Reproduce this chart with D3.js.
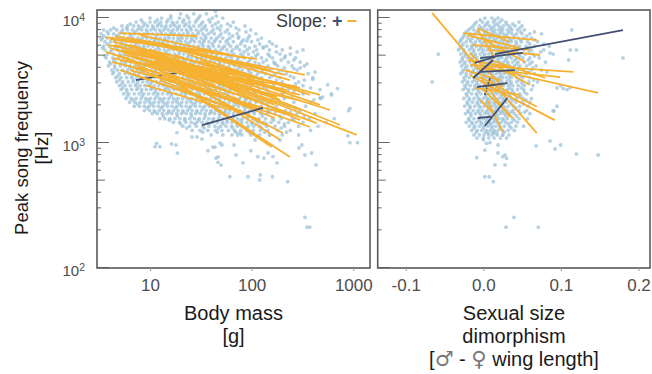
<!DOCTYPE html>
<html>
<head>
<meta charset="utf-8">
<title>Peak song frequency</title>
<script src="https://cdnjs.cloudflare.com/ajax/libs/d3/7.8.5/d3.min.js"></script>
<style>
body { margin: 0; background: #fff; }
text { font-family: "Liberation Sans", Arial, sans-serif; }
</style>
</head>
<body>
<script>

// body mass panel: rows of points, [peak frequency Hz, [body masses g]]
var massRows = [
  [10700, [20, 27, 36]],
  [9900, [10, 13, 16, 19.5, 24, 30, 41, 52]],
  [9200, [7.3, 8.5, 10, 11.2, 12.8, 14.6, 16.5, 18.5, 21, 24.5, 28, 33, 39, 47, 66]],
  [8550, [5.3, 6, 6.9, 7.7, 8.6, 9.5, 10.6, 11.8, 13, 14.4, 15.9, 17.6, 19.5, 21.8, 24.2, 27, 30.5, 35, 41, 50, 62, 86]],
  [7950, [3.5, 4.1, 4.7, 5.4, 6.0, 6.7, 7.5, 8.3, 9.2, 10.2, 11.3, 12.4, 13.7, 15.2, 16.8, 18.5, 20.5, 22.8, 25.4, 28.4, 32, 36, 42, 49, 58, 75, 98]],
  [7400, [3.3, 3.9, 4.4, 5.0, 5.6, 6.3, 7.0, 7.8, 8.7, 9.6, 10.6, 11.7, 12.9, 14.3, 15.8, 17.4, 19.3, 21.3, 23.7, 26.3, 29.5, 33, 37.5, 43, 50, 60, 72, 110]],
  [6850, [3.4, 3.8, 4.3, 4.8, 5.4, 6.1, 6.8, 7.6, 8.4, 9.3, 10.3, 11.4, 12.6, 13.9, 15.4, 17, 18.8, 20.8, 23, 25.6, 28.5, 31.8, 35.5, 40, 45.5, 52, 61, 74, 92, 125]],
  [6400, [3.6, 4.1, 4.6, 5.2, 5.8, 6.5, 7.2, 8.0, 8.9, 9.9, 11, 12.2, 13.5, 15, 16.6, 18.3, 20.2, 22.4, 24.8, 27.5, 30.6, 34, 38, 43, 49, 56, 66, 80, 100, 150]],
  [5900, [3.5, 4.0, 4.5, 5.1, 5.7, 6.3, 7.0, 7.8, 8.7, 9.6, 10.7, 11.9, 13.2, 14.6, 16.2, 17.9, 19.8, 22, 24.4, 27, 30, 33.5, 37.5, 42, 47.5, 54, 62, 72, 86, 108, 140, 175]],
  [5500, [3.6, 4.2, 4.8, 5.4, 6.0, 6.7, 7.4, 8.2, 9.1, 10.1, 11.2, 12.4, 13.8, 15.3, 17, 18.8, 20.8, 23, 25.5, 28.3, 31.5, 35, 39, 44, 50, 57, 65, 76, 90, 112, 150, 200, 320]],
  [5100, [3.8, 4.4, 5.0, 5.6, 6.2, 6.9, 7.7, 8.5, 9.4, 10.4, 11.5, 12.8, 14.2, 15.7, 17.4, 19.3, 21.4, 23.7, 26.3, 29.2, 32.5, 36, 40.5, 45.5, 51, 58, 67, 78, 93, 115, 145, 190, 240]],
  [4750, [3.7, 4.3, 4.9, 5.5, 6.1, 6.8, 7.5, 8.3, 9.2, 10.2, 11.3, 12.5, 13.9, 15.4, 17.1, 19, 21, 23.3, 25.8, 28.7, 32, 35.5, 39.5, 44, 49.5, 56, 63.5, 73, 85, 100, 125, 160, 210, 270]],
  [4400, [4.0, 4.6, 5.2, 5.8, 6.5, 7.2, 8.0, 8.9, 9.8, 10.9, 12.1, 13.4, 14.9, 16.5, 18.3, 20.3, 22.5, 25, 27.8, 31, 34.5, 38.5, 43, 48, 54, 61, 69, 79, 92, 108, 130, 165, 230, 300]],
  [4100, [3.9, 4.5, 5.1, 5.7, 6.4, 7.1, 7.9, 8.8, 9.7, 10.7, 11.8, 13.1, 14.5, 16.1, 17.8, 19.7, 21.9, 24.3, 27, 30, 33.5, 37.5, 42, 47, 53, 60, 68, 77, 88, 102, 120, 145, 180, 250, 330]],
  [3800, [4.2, 4.8, 5.4, 6.0, 6.7, 7.5, 8.3, 9.2, 10.2, 11.3, 12.5, 13.9, 15.4, 17.1, 19, 21, 23.3, 25.9, 28.8, 32, 35.5, 39.5, 44, 49.5, 55.5, 62.5, 71, 81, 93, 108, 128, 155, 200, 280]],
  [3550, [4.3, 5.0, 5.7, 6.3, 7.0, 7.8, 8.7, 9.6, 10.6, 11.8, 13.1, 14.5, 16.1, 17.9, 19.8, 22, 24.4, 27.1, 30.1, 33.5, 37.3, 41.5, 46.3, 52, 58.5, 66, 75, 86, 99, 115, 137, 170, 220, 360]],
  [3300, [4.6, 5.2, 5.9, 6.6, 7.4, 8.2, 9.1, 10.1, 11.2, 12.4, 13.8, 15.3, 17, 18.9, 21, 23.3, 25.9, 28.8, 32, 35.6, 39.6, 44.2, 49.5, 55.5, 62.5, 70.5, 80, 92, 106, 125, 150, 190, 260, 400]],
  [3050, [4.7, 5.4, 6.1, 6.8, 7.6, 8.5, 9.4, 10.4, 11.6, 12.8, 14.2, 15.8, 17.5, 19.4, 21.6, 24, 26.6, 29.6, 33, 36.7, 40.8, 45.5, 51, 57, 64, 72.5, 82, 94, 109, 128, 155, 200, 290]],
  [2850, [5.0, 5.7, 6.4, 7.2, 8.0, 8.9, 9.9, 11, 12.2, 13.5, 15, 16.6, 18.4, 20.4, 22.7, 25.2, 28, 31.1, 34.6, 38.5, 42.9, 47.8, 53.5, 60, 67.5, 76, 86.5, 99, 115, 135, 165, 215, 320]],
  [2650, [5.2, 5.9, 6.6, 7.4, 8.3, 9.2, 10.2, 11.3, 12.5, 13.9, 15.4, 17.1, 19, 21.1, 23.4, 26, 28.9, 32.1, 35.7, 39.7, 44.2, 49.3, 55, 61.5, 69, 78, 89, 102, 118, 140, 175, 230, 470]],
  [2450, [5.5, 6.2, 7.0, 7.8, 8.7, 9.7, 10.8, 12, 13.3, 14.8, 16.4, 18.2, 20.2, 22.4, 24.9, 27.7, 30.8, 34.2, 38, 42.3, 47.1, 52.5, 58.6, 65.6, 73.5, 83, 94, 108, 125, 150, 200, 320, 610]],
  [2250, [5.8, 6.5, 7.3, 8.2, 9.1, 10.1, 11.2, 12.4, 13.8, 15.3, 17, 18.9, 21, 23.3, 25.9, 28.8, 32, 35.6, 39.6, 44.1, 49.1, 54.7, 61, 68.3, 76.5, 86.5, 98, 113, 132, 160, 210, 480]],
  [2100, [6.3, 7.1, 8.0, 8.9, 9.9, 11, 12.2, 13.5, 15, 16.7, 18.5, 20.6, 22.9, 25.4, 28.3, 31.4, 35, 38.9, 43.3, 48.2, 53.7, 59.9, 67, 75, 84.5, 96, 110, 128, 152, 190, 260, 380]],
  [1950, [7.0, 7.9, 8.8, 9.8, 10.9, 12.1, 13.4, 14.9, 16.5, 18.4, 20.4, 22.7, 25.2, 28, 31.1, 34.6, 38.5, 42.8, 47.7, 53.1, 59.2, 66.1, 74, 83, 94, 107, 124, 146, 175, 230, 340]],
  [1800, [8.8, 9.9, 11, 12.3, 13.7, 15.3, 17, 18.9, 21, 23.4, 26, 28.9, 32.2, 35.8, 39.8, 44.3, 49.3, 54.9, 61.2, 68.2, 76.2, 85.4, 96, 109, 125, 145, 172, 215, 300, 900]],
  [1700, [10.5, 11.8, 13.2, 14.7, 16.4, 18.3, 20.4, 22.7, 25.3, 28.1, 31.3, 34.8, 38.7, 43.1, 48, 53.4, 59.5, 66.3, 74, 83, 93, 106, 122, 142, 170, 210, 280, 420]],
  [1550, [12.5, 14, 15.7, 17.6, 19.7, 22, 24.6, 27.4, 30.5, 34, 37.9, 42.2, 47, 52.4, 58.4, 65.1, 72.6, 81.3, 91, 103, 118, 137, 160, 195, 250, 370, 650]],
  [1450, [17, 19.5, 22.5, 25.5, 29, 32.5, 36.5, 41, 46, 51.5, 57.5, 64, 71.5, 80, 90, 101, 115, 132, 155, 185, 230, 320, 540]],
  [1350, [21, 24.5, 28.5, 33, 38, 43.5, 49.5, 56, 63.5, 72, 81.5, 92.5, 105, 120, 140, 170, 210, 290, 450]],
  [1250, [26, 31, 37, 44, 51, 59, 68, 78, 90, 104, 122, 145, 180, 240, 380]],
  [1150, [40, 52, 64, 80, 98, 120, 150, 200, 290]]
];

// body mass panel: in-between rows, thinner
var massRows2 = [
  [10280, [16, 23, 31, 45]],
  [9550, [8.2, 11.8, 15, 21.5, 29, 38]],
  [8870, [6.4, 9, 12.2, 17, 22.5, 32, 44, 58]],
  [8240, [4.4, 5.9, 8, 10.8, 14.1, 18.8, 25, 33.5, 46, 70]],
  [7660, [3.8, 5.2, 7.1, 9.4, 12.9, 16.3, 23.5, 30, 40, 55, 88]],
  [7110, [3.5, 4.7, 6.5, 8.9, 11.5, 15.1, 20, 27.5, 35, 48, 65, 95]],
  [6610, [3.3, 4.5, 6.2, 8.1, 11.2, 14.3, 19.5, 26, 34, 44, 58, 83, 115]],
  [6140, [3.8, 5.4, 7.3, 9.9, 13.1, 17.6, 23.5, 32.5, 41, 59, 78, 120, 160]],
  [5700, [3.4, 4.6, 6.4, 8.6, 12, 16, 21.5, 29.5, 38, 52, 70, 95, 130, 240]],
  [5300, [4.1, 5.8, 7.9, 10.8, 14.5, 19.5, 26.5, 35.5, 47, 63, 84, 104, 175, 280]],
  [4920, [3.6, 5.3, 7.2, 9.7, 13.3, 18, 24, 33, 45, 60, 82, 110, 150, 215]],
  [4570, [4.4, 6.1, 8.5, 11.6, 15.8, 21.5, 29, 40, 54, 73, 96, 140, 195, 260]],
  [4250, [4.1, 5.6, 7.7, 10.5, 14.2, 19.5, 26.5, 36, 49, 66, 90, 118, 170, 350]],
  [3950, [4.5, 6.3, 8.6, 11.9, 16.2, 22, 30, 41, 56, 75, 100, 135, 210, 300]],
  [3660, [4.4, 6, 8.2, 11.1, 15.1, 20.5, 28, 38, 52, 70, 95, 125, 185, 420]],
  [3400, [4.8, 6.7, 9.2, 12.6, 17.2, 23.5, 32, 43.5, 59, 80, 110, 160, 240]],
  [3160, [5, 6.9, 9.5, 13, 17.8, 24.5, 33.5, 45.5, 62, 84, 118, 175, 330]],
  [2940, [5.3, 7.4, 10.1, 13.9, 19, 26, 35.5, 48.5, 66, 90, 125, 190, 270]],
  [2730, [5.4, 7.6, 10.5, 14.5, 20, 27.5, 37.5, 51, 70, 96, 130, 200, 380]],
  [2540, [5.9, 8.2, 11.3, 15.6, 21.4, 29.5, 40.5, 55.5, 76, 104, 145, 260]],
  [2360, [6, 8.4, 11.7, 16.1, 22.2, 30.5, 42, 57.5, 79, 110, 165, 250]],
  [2190, [6.8, 9.5, 13, 18, 24.8, 34, 47, 64, 88, 120, 180, 410]],
  [2030, [7.5, 10.4, 14.3, 19.7, 27, 37, 51, 70, 97, 140, 210]],
  [1890, [9.4, 12.9, 17.8, 24.5, 33.5, 46, 63.5, 87, 120, 160, 270]],
  [1750, [11.2, 15.4, 21.2, 29.2, 40, 55, 76, 104, 150, 240]],
  [1630, [13.5, 18.6, 25.6, 35, 48.5, 66.5, 92, 128, 190, 330]],
  [1510, [15.5, 22, 30, 41.5, 57, 78, 110, 165, 260]],
  [1410, [20, 27.5, 38, 52.5, 72, 100, 140, 210]],
  [1305, [23, 34, 47, 65, 90, 125, 195]],
  [1210, [33, 46, 70, 95, 135, 220]]
];

// body mass panel: scattered single points [mass g, frequency Hz]
var massExtra = [
  [11.6, 985], [12.5, 926], [11.2, 926], [16.3, 973], [18, 955], [18.6, 823], [18.4, 1198],
  [25.9, 1107], [29, 1107], [32.5, 1066], [37.2, 860], [41.6, 920], [43.6, 920], [44.6, 751],
  [46.7, 766], [46.7, 694], [50, 660], [48.8, 990], [51, 955], [61, 532], [67, 955], [70, 794],
  [73, 1148], [76.6, 1191], [82, 686], [92, 532], [98, 860], [108, 1047], [115, 770], [120, 501],
  [122, 550], [132, 751], [145, 824], [151, 1148], [160, 532], [162, 770], [178, 686], [190, 1047],
  [226, 486], [292, 904], [312, 955], [334, 794], [389, 824], [430, 661], [334, 252], [350, 210],
  [373, 210], [886, 1133], [925, 996], [1100, 996], [925, 1878], [610, 2400], [470, 2270],
  [500, 2310], [320, 2490], [203, 2490], [35, 12300], [27, 11800], [44, 11200], [75, 7000],
  [90, 6500], [130, 5800], [170, 4300], [260, 3900], [400, 3200], [560, 2900], [700, 2700]
];

// body mass panel: fitted segments [mass1, freq1, mass2, freq2]
var massLines = [
  [7.29, 3160, 25.9, 3800],
  [5.07, 7510, 29, 7110], [4.04, 6730, 113, 4660], [3.61, 6980, 43.6, 5300], [4.33, 6370, 76.8, 3670],
  [4.74, 5500, 222, 2630], [4.33, 4740, 281, 2190], [11.7, 4830, 1080, 1150], [7.98, 4020, 374, 1330],
  [10, 4330, 437, 1430], [16.8, 3160, 238, 766], [14.7, 3340, 158, 920], [12.5, 3800, 203, 1190],
  [5.68, 6030, 178, 2310], [6.36, 5300, 281, 2780], [5.07, 4570, 203, 2880], [4.04, 5710, 61.2, 2780],
  [4.85, 5010, 76.8, 2190], [7.12, 6600, 31, 5010], [7.98, 7240, 86, 4740], [3.86, 6030, 19.7, 4570],
  [5.68, 4170, 121, 1820], [7.12, 3470, 96.3, 1660], [8.93, 2880, 61.2, 1820], [6.36, 3800, 34.7, 2630],
  [10, 5500, 135, 3160], [14, 6030, 151, 3800], [11.2, 4570, 299, 2400], [17.6, 5010, 470, 2000],
  [24.7, 4170, 740, 1380], [5.07, 3800, 38.9, 2190], [4.23, 4400, 24.7, 3160], [7.98, 5010, 61.2, 3470],
  [12.5, 3160, 121, 1510], [19.7, 2880, 238, 1660], [6.08, 6850, 121, 3950], [8.93, 6370, 212, 3470],
  [15.7, 4570, 590, 1820], [31, 3470, 299, 1510], [4.53, 7110, 15.7, 6030], [10, 3470, 86, 2000],
  [22.1, 3800, 169, 2000], [7.12, 4740, 54.6, 3050], [31, 2630, 135, 1380], [38.9, 2400, 190, 1050],
  [5.43, 5500, 19.7, 4170], [11.2, 4170, 43.6, 2880], [24.7, 3160, 108, 2190], [48.8, 3800, 299, 2730],
  [61.2, 4570, 334, 3470], [3.69, 5300, 14, 3670],
  [6.36, 6030, 108, 2880], [7.98, 5500, 151, 2400], [10, 5010, 190, 2190], [12.5, 4570, 135, 2400],
  [15.7, 4170, 299, 1820], [8.93, 4330, 96.3, 2540], [19.7, 5500, 238, 3160], [11.2, 3670, 108, 1890],
  [5.68, 5010, 68.6, 3160], [24.7, 5010, 374, 2400], [31, 4570, 212, 2540], [7.12, 4170, 48.8, 2400],
  [14, 3470, 169, 1570], [4.53, 6030, 31, 3800], [38.9, 4170, 470, 2400],
  [32.5, 1380, 129, 1890]
];

// size dimorphism panel: rows of points, [peak frequency Hz, [dimorphism]]
var ssdRows = [
  [9900, [0.002, 0.011, 0.019]],
  [9200, [-0.009, -0.001, 0.006, 0.013, 0.021, 0.029, 0.046]],
  [8550, [-0.013, -0.005, 0.002, 0.008, 0.014, 0.02, 0.026, 0.033, 0.041, 0.05]],
  [7950, [-0.019, -0.012, -0.006, 0.0, 0.005, 0.01, 0.015, 0.02, 0.025, 0.031, 0.037, 0.044, 0.053, 0.114]],
  [7400, [-0.024, -0.017, -0.011, -0.005, 0.001, 0.006, 0.011, 0.016, 0.021, 0.026, 0.031, 0.037, 0.043, 0.05, 0.06, 0.075]],
  [6850, [-0.027, -0.02, -0.014, -0.008, -0.002, 0.003, 0.008, 0.013, 0.018, 0.023, 0.028, 0.033, 0.039, 0.045, 0.052, 0.062]],
  [6400, [-0.03, -0.022, -0.016, -0.01, -0.004, 0.001, 0.006, 0.011, 0.016, 0.021, 0.026, 0.031, 0.036, 0.042, 0.049, 0.057, 0.07]],
  [5900, [-0.028, -0.021, -0.015, -0.009, -0.003, 0.003, 0.008, 0.013, 0.018, 0.023, 0.028, 0.034, 0.04, 0.047, 0.055, 0.066, 0.085]],
  [5500, [-0.032, -0.025, -0.018, -0.012, -0.006, 0.0, 0.005, 0.01, 0.015, 0.02, 0.025, 0.031, 0.037, 0.044, 0.052, 0.062, 0.078, 0.112, 0.12]],
  [5100, [-0.058, -0.029, -0.022, -0.016, -0.01, -0.004, 0.002, 0.007, 0.012, 0.017, 0.022, 0.027, 0.033, 0.039, 0.046, 0.054, 0.064, 0.09]],
  [4750, [-0.027, -0.02, -0.014, -0.008, -0.002, 0.004, 0.009, 0.014, 0.019, 0.024, 0.03, 0.036, 0.043, 0.051, 0.06, 0.072, 0.18]],
  [4400, [-0.03, -0.023, -0.017, -0.011, -0.005, 0.001, 0.006, 0.011, 0.016, 0.021, 0.026, 0.032, 0.038, 0.045, 0.053, 0.063, 0.08]],
  [4100, [-0.028, -0.021, -0.015, -0.009, -0.003, 0.003, 0.008, 0.013, 0.018, 0.023, 0.028, 0.034, 0.04, 0.047, 0.056, 0.068]],
  [3800, [-0.026, -0.019, -0.013, -0.007, -0.001, 0.005, 0.01, 0.015, 0.02, 0.025, 0.031, 0.037, 0.044, 0.052, 0.062, 0.075]],
  [3550, [-0.029, -0.022, -0.016, -0.01, -0.004, 0.002, 0.007, 0.012, 0.017, 0.022, 0.027, 0.033, 0.039, 0.046, 0.055, 0.066]],
  [3300, [-0.025, -0.018, -0.012, -0.006, 0.0, 0.005, 0.01, 0.015, 0.02, 0.025, 0.03, 0.036, 0.043, 0.051, 0.06]],
  [3050, [-0.066, -0.027, -0.02, -0.014, -0.008, -0.002, 0.004, 0.009, 0.014, 0.019, 0.024, 0.03, 0.036, 0.043, 0.05, 0.059, 0.07]],
  [2850, [-0.024, -0.017, -0.011, -0.005, 0.001, 0.006, 0.011, 0.016, 0.021, 0.026, 0.032, 0.038, 0.045, 0.053, 0.064, 0.1]],
  [2650, [-0.026, -0.019, -0.013, -0.007, -0.001, 0.005, 0.01, 0.015, 0.02, 0.025, 0.031, 0.037, 0.044, 0.052, 0.062, 0.108]],
  [2450, [-0.022, -0.015, -0.009, -0.003, 0.003, 0.008, 0.013, 0.018, 0.023, 0.028, 0.034, 0.04, 0.047, 0.056]],
  [2250, [-0.025, -0.018, -0.012, -0.006, 0.0, 0.005, 0.01, 0.015, 0.02, 0.025, 0.03, 0.036, 0.043, 0.051, 0.062]],
  [2100, [-0.021, -0.014, -0.008, -0.002, 0.004, 0.009, 0.014, 0.019, 0.024, 0.029, 0.035, 0.042, 0.05, 0.06]],
  [1950, [-0.024, -0.017, -0.011, -0.005, 0.001, 0.006, 0.011, 0.016, 0.021, 0.026, 0.032, 0.039, 0.047, 0.058, 0.095]],
  [1800, [-0.02, -0.013, -0.007, -0.001, 0.005, 0.01, 0.015, 0.02, 0.025, 0.031, 0.038, 0.046, 0.056, 0.09]],
  [1700, [-0.023, -0.016, -0.01, -0.004, 0.002, 0.007, 0.012, 0.017, 0.022, 0.027, 0.033, 0.04, 0.048, 0.06]],
  [1550, [-0.019, -0.012, -0.006, 0.0, 0.005, 0.01, 0.015, 0.02, 0.025, 0.031, 0.038, 0.046, 0.057]],
  [1450, [-0.022, -0.015, -0.009, -0.003, 0.003, 0.008, 0.013, 0.018, 0.023, 0.029, 0.036, 0.044]],
  [1350, [-0.018, -0.011, -0.005, 0.001, 0.006, 0.011, 0.016, 0.021, 0.027, 0.034, 0.042, 0.052]],
  [1250, [-0.015, -0.008, -0.002, 0.004, 0.009, 0.014, 0.019, 0.025, 0.032, 0.04]],
  [1150, [-0.012, -0.005, 0.001, 0.007, 0.012, 0.018, 0.025, 0.033]],
  [1085, [-0.008, 0.0, 0.007, 0.014, 0.022, 0.03]]
];

// size dimorphism panel: in-between rows, thinner
var ssdRows2 = [
  [9550, [-0.004, 0.015, 0.024]],
  [8870, [-0.011, 0.004, 0.017, 0.03, 0.038]],
  [8240, [-0.016, -0.002, 0.011, 0.023, 0.035, 0.047]],
  [7660, [-0.022, -0.008, 0.003, 0.013, 0.023, 0.034, 0.048, 0.066]],
  [7110, [-0.025, -0.013, 0.0, 0.009, 0.019, 0.029, 0.04, 0.056]],
  [6610, [-0.029, -0.017, -0.005, 0.004, 0.015, 0.025, 0.035, 0.048, 0.066]],
  [6140, [-0.026, -0.012, -0.001, 0.01, 0.02, 0.031, 0.043, 0.06, 0.078]],
  [5700, [-0.03, -0.015, -0.003, 0.008, 0.018, 0.028, 0.041, 0.058]],
  [5300, [-0.025, -0.013, -0.001, 0.01, 0.02, 0.03, 0.042, 0.059, 0.074]],
  [4920, [-0.024, -0.011, 0.001, 0.012, 0.022, 0.033, 0.047, 0.066]],
  [4570, [-0.027, -0.014, -0.002, 0.009, 0.019, 0.029, 0.041, 0.058, 0.11]],
  [4250, [-0.025, -0.012, 0.0, 0.011, 0.021, 0.031, 0.043, 0.06]],
  [3950, [-0.023, -0.01, 0.001, 0.012, 0.022, 0.033, 0.046, 0.064]],
  [3660, [-0.027, -0.013, -0.001, 0.01, 0.02, 0.03, 0.042, 0.058, 0.082]],
  [3400, [-0.022, -0.009, 0.002, 0.013, 0.023, 0.034, 0.048]],
  [3160, [-0.024, -0.011, 0.001, 0.012, 0.022, 0.033, 0.046, 0.065]],
  [2940, [-0.021, -0.008, 0.003, 0.014, 0.024, 0.035, 0.05]],
  [2730, [-0.023, -0.01, 0.002, 0.012, 0.022, 0.034, 0.049, 0.095]],
  [2540, [-0.019, -0.006, 0.005, 0.016, 0.026, 0.038, 0.053]],
  [2360, [-0.021, -0.008, 0.003, 0.013, 0.023, 0.034, 0.048]],
  [2190, [-0.018, -0.005, 0.006, 0.016, 0.027, 0.039, 0.055]],
  [2030, [-0.02, -0.007, 0.004, 0.014, 0.024, 0.036, 0.052]],
  [1890, [-0.017, -0.004, 0.007, 0.017, 0.028, 0.042]],
  [1750, [-0.019, -0.006, 0.004, 0.014, 0.024, 0.036, 0.053]],
  [1630, [-0.016, -0.003, 0.008, 0.018, 0.029, 0.043]],
  [1510, [-0.018, -0.005, 0.005, 0.015, 0.026, 0.04]],
  [1410, [-0.014, -0.002, 0.009, 0.02, 0.032]],
  [1305, [-0.012, 0.0, 0.011, 0.022, 0.036]],
  [1210, [-0.009, 0.003, 0.014, 0.027]]
];

// size dimorphism panel: scattered single points [dimorphism, frequency Hz]
var ssdExtra = [
  [-0.0085, 756], [0.002, 532], [0.0077, 532], [0.0129, 486], [0.015, 661], [0.028, 661],
  [0.0396, 252], [0.0293, 210], [0.0709, 210], [0.068, 938], [0.086, 1028], [0.0997, 955],
  [0.0924, 887], [0.12, 810], [0.148, 794], [0.0, 1050], [0.004, 985], [0.0086, 996],
  [0.002, 870], [0.019, 955], [0.019, 824], [0.025, 770], [0.025, 1148], [0.017, 1184],
  [0.006, 1190], [0.012, 1190], [0.028, 794], [0.030, 748], [0.086, 5200], [0.103, 2700],
  [0.112, 2750], [0.091, 1780]
];

// size dimorphism panel: fitted segments [ssd1, freq1, ssd2, freq2]
var ssdLines = [
  [0.002, 2400, 0.009, 3340],
  [-0.066, 10890, -0.002, 3670], [0.0, 4020, 0.148, 2490], [-0.017, 4170, 0.116, 3670],
  [-0.009, 3950, 0.099, 3340], [-0.004, 3340, 0.069, 1930], [0.0, 2990, 0.092, 1510],
  [0.009, 3160, 0.069, 1190], [0.005, 2190, 0.025, 1210], [-0.026, 7510, 0.069, 6600],
  [-0.008, 8240, 0.034, 6370], [-0.021, 7240, 0.047, 5710], [-0.017, 5210, 0.025, 2780],
  [-0.004, 3340, 0.034, 1600], [0.0, 2630, 0.038, 1570], [-0.020, 4570, 0.041, 3950],
  [-0.015, 6030, 0.060, 5500], [0.002, 6600, 0.054, 4400], [-0.024, 3800, 0.022, 3160],
  [-0.007, 7940, 0.015, 4740], [0.009, 4570, 0.080, 3280], [-0.011, 2730, 0.047, 2400],
  [0.006, 5500, 0.073, 5010], [-0.017, 3470, 0.028, 2400], [0.015, 4170, 0.060, 2880],
  [-0.004, 2190, 0.015, 1660],
  [0.015, 5100, 0.180, 7940], [-0.004, 4740, 0.051, 5210], [-0.013, 3280, 0.0125, 4570],
  [-0.008, 2780, 0.031, 2990], [-0.007, 1570, 0.011, 1610], [0.002, 1355, 0.031, 2270],
  [-0.004, 3670, 0.041, 3800], [-0.011, 4330, 0.015, 4830]
];

var freqTicks = [100, 1000, 10000];
var massTicks = [10, 100, 1000];
var ssdTicks = [-0.1, 0, 0.1, 0.2];

var posColor = "#434f70", negColor = "#f6b130", dotColor = "#9ec3d9";

var svg = d3.select("body").append("svg")
  .attr("width", 652).attr("height", 374)
  .style("background", "#fff");

var panTop = 10, panBottom = 268;

var y = d3.scaleLog().domain([100, 10000]).range([267.5, 17.5]);
var xMass = d3.scaleLog().domain([10, 1000]).range([150, 353.3]);
var xSsd = d3.scaleLinear().domain([0, 0.1]).range([483.3, 560.9]);

function flatten(rows, rows2, extra) {
  var out = [];
  rows.concat(rows2).forEach(function(r) {
    r[1].forEach(function(v) { out.push([v, r[0]]); });
  });
  return out.concat(extra);
}

// minor log ticks for the y axis
var logTicks = [];
for (var e = 2; e < 4; e++)
  for (var k = 1; k <= 9; k++) logTicks.push([k * Math.pow(10, e), k]);
logTicks.push([10000, 1]);

function drawPanel(id, x0, x1, xs, pts, lines, ticks, fmt) {
  var g = svg.append("g");

  svg.append("clipPath").attr("id", id)
    .append("rect").attr("x", x0).attr("y", panTop)
    .attr("width", x1 - x0).attr("height", panBottom - panTop);

  var inner = g.append("g").attr("clip-path", "url(#" + id + ")");

  inner.selectAll("circle")
    .data(pts)
    .enter().append("circle")
    .attr("cx", function(d) { return xs(d[0]); })
    .attr("cy", function(d) { return y(d[1]); })
    .attr("r", 1.9)
    .attr("fill", dotColor)
    .attr("fill-opacity", 0.75);

  inner.selectAll("line.fit")
    .data(lines)
    .enter().append("line")
    .attr("class", "fit")
    .attr("x1", function(d) { return xs(d[0]); })
    .attr("y1", function(d) { return y(d[1]); })
    .attr("x2", function(d) { return xs(d[2]); })
    .attr("y2", function(d) { return y(d[3]); })
    .attr("stroke", function(d) { return (d[3] - d[1]) / (d[2] - d[0]) > 0 ? posColor : negColor; })
    .attr("stroke-width", 1.8);

  // inward log ticks
  g.selectAll("line.lt")
    .data(logTicks)
    .enter().append("line")
    .attr("class", "lt")
    .attr("x1", x0)
    .attr("x2", function(d) { return x0 + (d[1] == 1 ? 12 : d[1] == 5 ? 8 : 4); })
    .attr("y1", function(d) { return y(d[0]); })
    .attr("y2", function(d) { return y(d[0]); })
    .attr("stroke", "#666")
    .attr("stroke-width", 1);

  g.append("rect")
    .attr("x", x0).attr("y", panTop)
    .attr("width", x1 - x0).attr("height", panBottom - panTop)
    .attr("fill", "none")
    .attr("stroke", "#595959")
    .attr("stroke-width", 1.6);

  var ax = g.append("g")
    .attr("transform", "translate(0," + panBottom + ")")
    .call(d3.axisBottom(xs).tickValues(ticks).tickSize(3).tickPadding(8).tickFormat(fmt));
  ax.select(".domain").remove();
  ax.selectAll(".tick line").attr("stroke", "#999");
  ax.selectAll(".tick text")
    .attr("fill", "#4d4d4d")
    .style("font-size", "17px")
    .style("font-family", "Liberation Sans, Arial, sans-serif");
}

drawPanel("clipMass", 97, 370, xMass, flatten(massRows, massRows2, massExtra), massLines, massTicks,
  function(d) { return String(d); });
drawPanel("clipSsd", 377.7, 650, xSsd, flatten(ssdRows, ssdRows2, ssdExtra), ssdLines, ssdTicks,
  function(d) { return d3.format(".1f")(d).replace("\u2212", "-"); });

// y tick labels as powers of ten
var yl = svg.selectAll("text.yl")
  .data(freqTicks)
  .enter().append("text")
  .attr("class", "yl")
  .attr("text-anchor", "end")
  .attr("x", 85)
  .attr("y", function(d) { return y(d) + 8.5; })
  .attr("fill", "#4d4d4d")
  .style("font-size", "15px");
yl.append("tspan").text("10");
yl.append("tspan")
  .attr("dy", -5.5)
  .style("font-size", "10.5px")
  .text(function(d) { return Math.round(Math.log10(d)); });

// axis titles
var ytitle = svg.append("text")
  .attr("transform", "translate(0,148) rotate(-90)")
  .attr("text-anchor", "middle")
  .attr("fill", "#1a1a1a")
  .style("font-size", "18.5px");
ytitle.append("tspan").attr("x", 0).attr("y", 28).text("Peak song frequency");
ytitle.append("tspan").attr("x", 0).attr("y", 48).text("[Hz]");

var xt1 = svg.append("text")
  .attr("text-anchor", "middle")
  .attr("fill", "#1a1a1a")
  .style("font-size", "20px");
xt1.append("tspan").attr("x", 233.5).attr("y", 320).text("Body mass");
xt1.append("tspan").attr("x", 233.5).attr("y", 343).text("[g]");

var xt2 = svg.append("text")
  .attr("text-anchor", "middle")
  .attr("fill", "#1a1a1a")
  .style("font-size", "20px");
xt2.append("tspan").attr("x", 514).attr("y", 320).text("Sexual size");
xt2.append("tspan").attr("x", 514).attr("y", 343).text("dimorphism");
var l3 = xt2.append("tspan").attr("x", 514).attr("y", 366);
l3.append("tspan").text("[");
l3.append("tspan").style("font-family", "DejaVu Sans").style("font-size", "21px").attr("fill", "#777").text("\u2642");
l3.append("tspan").text(" - ");
l3.append("tspan").style("font-family", "DejaVu Sans").style("font-size", "21px").attr("fill", "#777").text("\u2640");
l3.append("tspan").text(" wing length]");

// slope legend
var leg = svg.append("text")
  .attr("x", 276).attr("y", 27)
  .attr("fill", "#3d3d3d")
  .style("font-size", "18px");
leg.append("tspan").text("Slope: ");
leg.append("tspan").attr("fill", posColor).style("font-weight", "bold").text("+");
leg.append("tspan").attr("fill", negColor).style("font-weight", "bold").attr("dx", 4).text("\u2212");

</script>
</body>
</html>
